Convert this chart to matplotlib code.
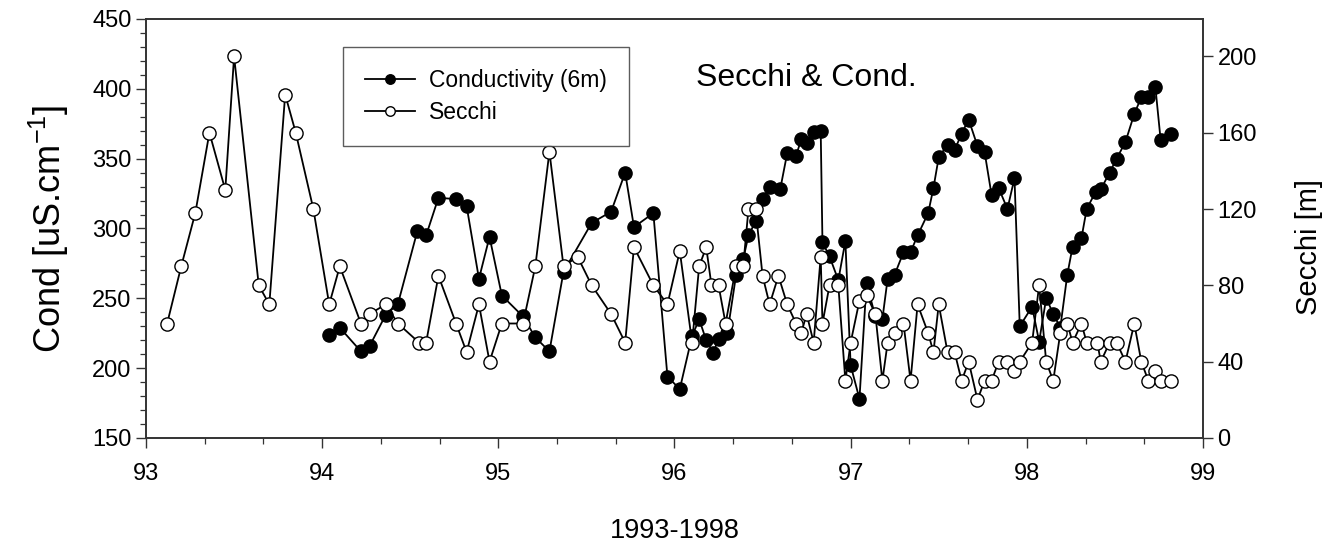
"""Secchi depth and 6 m conductivity, 1993-1998, on twin y axes."""

import matplotlib
matplotlib.use("Agg")
import matplotlib.pyplot as plt
from matplotlib.ticker import MultipleLocator

plt.rcParams["font.family"] = ["Liberation Sans", "DejaVu Sans"]
plt.rcParams["mathtext.fontset"] = "custom"
plt.rcParams["mathtext.rm"] = "Liberation Sans"
plt.rcParams["mathtext.it"] = "Liberation Sans:italic"

# Conductivity at 6 m (uS/cm), decimal year (93 = 1993)
cond_year = [94.04, 94.10, 94.22, 94.27, 94.36, 94.43, 94.54, 94.59, 94.66, 94.76,
             94.82, 94.89, 94.95, 95.02, 95.14, 95.21, 95.29, 95.37, 95.53, 95.64,
             95.72, 95.77, 95.88, 95.96, 96.03, 96.10, 96.14, 96.18, 96.22, 96.25,
             96.30, 96.35, 96.39, 96.42, 96.46, 96.50, 96.54, 96.60, 96.64, 96.69,
             96.72, 96.75, 96.79, 96.83, 96.84, 96.88, 96.93, 96.97, 97.00, 97.05,
             97.09, 97.14, 97.18, 97.21, 97.25, 97.30, 97.34, 97.38, 97.44, 97.47,
             97.50, 97.55, 97.59, 97.63, 97.67, 97.72, 97.76, 97.80, 97.84, 97.89,
             97.93, 97.96, 98.03, 98.07, 98.11, 98.15, 98.19, 98.23, 98.26, 98.31,
             98.34, 98.39, 98.42, 98.47, 98.51, 98.56, 98.61, 98.65, 98.69, 98.73,
             98.76, 98.82]
cond_val = [224, 229, 212, 216, 238, 246, 298, 295, 322, 321,
            316, 264, 294, 252, 237, 222, 212, 269, 304, 312,
            340, 301, 311, 194, 185, 223, 235, 220, 211, 221,
            225, 267, 278, 295, 305, 321, 330, 328, 354, 352,
            364, 361, 369, 370, 290, 280, 263, 291, 202, 178,
            261, 237, 235, 264, 267, 283, 283, 295, 311, 329,
            351, 360, 356, 368, 378, 359, 355, 324, 329, 314,
            336, 230, 244, 219, 250, 239, 229, 267, 287, 293,
            314, 326, 328, 340, 350, 362, 382, 394, 394, 401,
            363, 368]

# Secchi depth (plotted on right axis)
secchi_year = [93.12, 93.20, 93.28, 93.36, 93.45, 93.50, 93.64, 93.70, 93.79, 93.85,
               93.95, 94.04, 94.10, 94.22, 94.27, 94.36, 94.43, 94.55, 94.59, 94.66,
               94.76, 94.82, 94.89, 94.95, 95.02, 95.14, 95.21, 95.29, 95.37, 95.45,
               95.53, 95.64, 95.72, 95.77, 95.88, 95.96, 96.03, 96.10, 96.14, 96.18,
               96.21, 96.25, 96.29, 96.35, 96.39, 96.42, 96.46, 96.50, 96.54, 96.59,
               96.64, 96.69, 96.72, 96.75, 96.79, 96.83, 96.84, 96.88, 96.93, 96.97,
               97.00, 97.05, 97.09, 97.14, 97.18, 97.21, 97.25, 97.30, 97.34, 97.38,
               97.44, 97.47, 97.50, 97.55, 97.59, 97.63, 97.67, 97.72, 97.76, 97.80,
               97.84, 97.89, 97.93, 97.96, 98.03, 98.07, 98.11, 98.15, 98.19, 98.23,
               98.26, 98.31, 98.34, 98.40, 98.42, 98.47, 98.51, 98.56, 98.61, 98.65,
               98.69, 98.73, 98.76, 98.82]
secchi_val = [60, 90, 118, 160, 130, 200, 80, 70, 180, 160,
              120, 70, 90, 60, 65, 70, 60, 50, 50, 85,
              60, 45, 70, 40, 60, 60, 90, 150, 90, 95,
              80, 65, 50, 100, 80, 70, 98, 50, 90, 100,
              80, 80, 60, 90, 90, 120, 120, 85, 70, 85,
              70, 60, 55, 65, 50, 95, 60, 80, 80, 30,
              50, 72, 75, 65, 30, 50, 55, 60, 30, 70,
              55, 45, 70, 45, 45, 30, 40, 20, 30, 30,
              40, 40, 35, 40, 50, 80, 40, 30, 55, 60,
              50, 60, 50, 50, 40, 50, 50, 40, 60, 40,
              30, 35, 30, 30]

fig = plt.figure(figsize=(13.42, 5.47), dpi=100)
ax = fig.add_axes([0.1088, 0.1993, 0.7876, 0.766])
ax2 = ax.twinx()

spine_col = "#333333"
mk = dict(markersize=9.5, markeredgewidth=1.0, markeredgecolor="black")

l1, = ax.plot(cond_year, cond_val, color="black", linewidth=1.3,
              marker="o", markerfacecolor="black", label="Conductivity (6m)", **mk)
l2, = ax2.plot(secchi_year, secchi_val, color="black", linewidth=1.3,
               marker="o", markerfacecolor="white", label="Secchi", **mk)

ax.set_xlim(93, 99)
ax.set_ylim(150, 450)
ax2.set_ylim(0, 219.6)

ax.xaxis.set_major_locator(MultipleLocator(1))
ax.xaxis.set_minor_locator(MultipleLocator(1 / 3))
ax.yaxis.set_major_locator(MultipleLocator(50))
ax.yaxis.set_minor_locator(MultipleLocator(10))
ax2.yaxis.set_major_locator(MultipleLocator(40))

for a in (ax, ax2):
    for s in a.spines.values():
        s.set_color(spine_col)
        s.set_linewidth(1.2)
    a.tick_params(which="major", length=7, width=1.0, color=spine_col, labelsize=17)
    a.tick_params(which="minor", length=4, width=0.9, color=spine_col)
ax.tick_params(axis="x", which="major", pad=11)

ax.set_xlabel("1993-1998", fontsize=19.5, labelpad=24)
ax.set_ylabel(r"Cond [uS.cm$^{\mathrm{-1}}$]", fontsize=26, labelpad=15)
ax2.set_ylabel("Secchi [m]", fontsize=21, labelpad=27)
ax2.yaxis.label.set_y(0.456)

ax.text(0.6244, 0.859, "Secchi & Cond.", transform=ax.transAxes,
        ha="center", va="center", fontsize=23)

leg = ax2.legend([l1, l2], ["Conductivity (6m)", "Secchi"], loc="upper left",
                 bbox_to_anchor=(0.1864, 0.933), fontsize=16.5, markerscale=0.72,
                 frameon=True, fancybox=False, borderpad=0.95, labelspacing=0.4,
                 handlelength=2.2, handletextpad=0.6, borderaxespad=0)
leg.get_frame().set_edgecolor(spine_col)
leg.get_frame().set_linewidth(1.0)

fig.savefig("out.png", dpi=100)
